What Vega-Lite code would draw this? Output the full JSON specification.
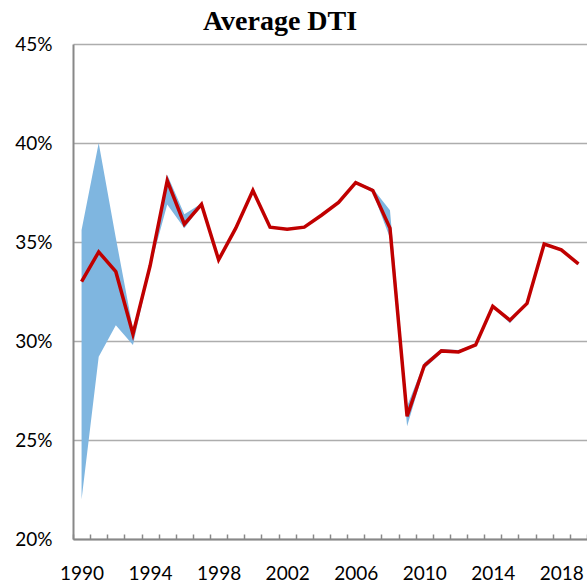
{
  "$schema": "https://vega.github.io/schema/vega-lite/v6.json",
  "width": 514,
  "height": 495,
  "autosize": {"type": "none"},
  "padding": {"left": 73, "top": 44, "right": 0, "bottom": 48},
  "background": "white",
  "title": {"text": "Average DTI", "font": "Liberation Serif", "fontSize": 28, "fontWeight": "bold", "color": "black", "anchor": "middle", "dx": -50, "offset": -1},
  "config": {"view": {"stroke": null}},
  "data": {"values": [
    {"year": 1990, "dti": 0.330, "lo": 0.220, "hi": 0.356},
    {"year": 1991, "dti": 0.345, "lo": 0.292, "hi": 0.400},
    {"year": 1992, "dti": 0.335, "lo": 0.308, "hi": 0.352},
    {"year": 1993, "dti": 0.3035, "lo": 0.298, "hi": 0.306},
    {"year": 1994, "dti": 0.338, "lo": 0.337, "hi": 0.339},
    {"year": 1995, "dti": 0.381, "lo": 0.369, "hi": 0.384},
    {"year": 1996, "dti": 0.359, "lo": 0.357, "hi": 0.364},
    {"year": 1997, "dti": 0.369, "lo": 0.3685, "hi": 0.3695},
    {"year": 1998, "dti": 0.341, "lo": 0.3405, "hi": 0.3415},
    {"year": 1999, "dti": 0.357, "lo": 0.3565, "hi": 0.3575},
    {"year": 2000, "dti": 0.376, "lo": 0.3755, "hi": 0.3765},
    {"year": 2001, "dti": 0.3575, "lo": 0.357, "hi": 0.358},
    {"year": 2002, "dti": 0.3565, "lo": 0.356, "hi": 0.357},
    {"year": 2003, "dti": 0.3575, "lo": 0.357, "hi": 0.358},
    {"year": 2004, "dti": 0.3635, "lo": 0.363, "hi": 0.364},
    {"year": 2005, "dti": 0.370, "lo": 0.3695, "hi": 0.3705},
    {"year": 2006, "dti": 0.380, "lo": 0.3795, "hi": 0.3805},
    {"year": 2007, "dti": 0.376, "lo": 0.375, "hi": 0.377},
    {"year": 2008, "dti": 0.357, "lo": 0.352, "hi": 0.366},
    {"year": 2009, "dti": 0.262, "lo": 0.257, "hi": 0.267},
    {"year": 2010, "dti": 0.2875, "lo": 0.286, "hi": 0.289},
    {"year": 2011, "dti": 0.295, "lo": 0.294, "hi": 0.296},
    {"year": 2012, "dti": 0.2945, "lo": 0.294, "hi": 0.2955},
    {"year": 2013, "dti": 0.298, "lo": 0.2975, "hi": 0.2985},
    {"year": 2014, "dti": 0.3175, "lo": 0.317, "hi": 0.318},
    {"year": 2015, "dti": 0.3105, "lo": 0.309, "hi": 0.311},
    {"year": 2016, "dti": 0.319, "lo": 0.3185, "hi": 0.3195},
    {"year": 2017, "dti": 0.349, "lo": 0.3485, "hi": 0.3495},
    {"year": 2018, "dti": 0.346, "lo": 0.3455, "hi": 0.3465},
    {"year": 2019, "dti": 0.339, "lo": 0.3385, "hi": 0.3395}
  ]},
  "encoding": {
    "x": {
      "field": "year", "type": "ordinal",
      "scale": {"type": "band", "paddingInner": 0, "paddingOuter": 0},
      "axis": {
        "title": null, "grid": false, "labelAngle": 0,
        "labelExpr": "(datum.value - 1990) % 4 == 0 ? datum.label : ''",
        "tickBand": "extent", "tickSize": -5, "tickColor": "#888888", "tickWidth": 1.5,
        "domainColor": "#888888", "domainWidth": 2,
        "labelFont": "Lato", "labelFontSize": 19, "labelColor": "black", "labelPadding": 30
      }
    }
  },
  "layer": [
    {
      "mark": {"type": "area", "color": "#7FB6E0", "opacity": 1},
      "encoding": {
        "y": {
          "field": "lo", "type": "quantitative",
          "scale": {"domain": [0.2, 0.45], "nice": false, "zero": false},
          "axis": {
            "title": null, "values": [0.2, 0.25, 0.3, 0.35, 0.4, 0.45], "format": ".0%",
            "grid": true, "gridColor": "#ADADAD", "gridWidth": 1.5,
            "ticks": false, "domainColor": "#888888", "domainWidth": 2,
            "labelFont": "Lato", "labelFontSize": 19, "labelColor": "black", "labelPadding": 21
          }
        },
        "y2": {"field": "hi"}
      }
    },
    {
      "mark": {"type": "line", "color": "#C00000", "strokeWidth": 3.5},
      "encoding": {"y": {"field": "dti", "type": "quantitative"}}
    }
  ]
}
